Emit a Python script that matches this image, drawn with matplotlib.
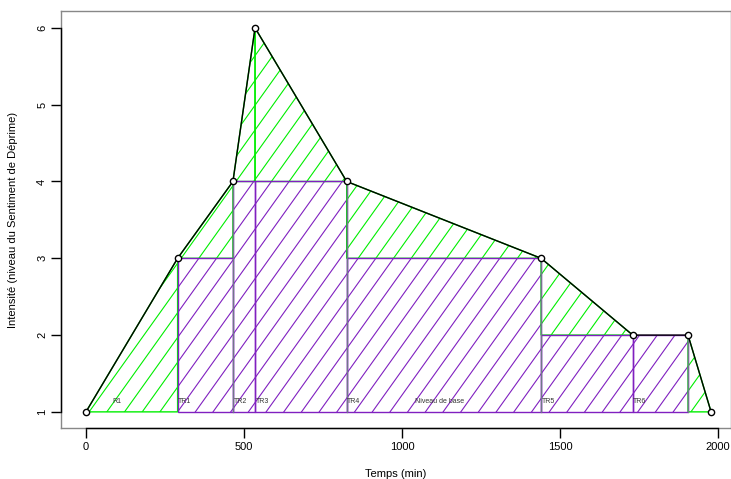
import matplotlib
matplotlib.use("Agg")
import matplotlib.pyplot as plt
from matplotlib.patches import Polygon

# points of the intensity curve
temps = [0, 290, 465, 535, 825, 1440, 1730, 1905, 1978]
intensite = [1, 3, 4, 6, 4, 3, 2, 2, 1]

# time ranges (rectangles)
tr_debut = [290, 465, 535, 825, 1440, 1730]
tr_fin = [465, 535, 825, 1440, 1730, 1905]
tr_haut = [3, 4, 4, 3, 2, 2]

# labels inside the plot
lab_txt = ["R1", "TR1", "TR2", "TR3", "TR4", "Niveau de base", "TR5", "TR6"]
lab_x = [82, 292, 467, 537, 827, 1040, 1442, 1732]

vert_x = [465, 825, 1440, 1905]

plt.rcParams['font.family'] = ['Liberation Sans', 'DejaVu Sans']

vert = "#00EE00"
violet = "#8020C0"

xmin, xmax = -79, 2041
ymin, ymax = 0.79, 6.22

fig = plt.figure(figsize=(7.31, 4.79), dpi=100)
ax = fig.add_axes([61 / 731, 1 - 428 / 479, 1 - 61 / 731, (428 - 11) / 479])
ax.set_xlim(xmin, xmax)
ax.set_ylim(ymin, ymax)

# hatch lines like R's density shading (slope ~1.4 on screen, ~17.7 px apart)
px_x = ax.bbox.width / (xmax - xmin)
px_y = ax.bbox.height / (ymax - ymin)
pente = 1.4 * px_x / px_y
pas = 17.7 / px_x


def hachures(xs, ys, couleur):
    poly = Polygon(list(zip(xs, ys)), closed=True, facecolor="none",
                   edgecolor=couleur, lw=1, zorder=3)
    ax.add_patch(poly)
    x0 = 66 - pas * 60
    while x0 < xmax + 100:
        ln, = ax.plot([x0, x0 + (ymax - 1) / pente], [1, ymax], color=couleur,
                      lw=0.8, zorder=2)
        ln.set_clip_path(poly)
        x0 += pas


# green hatched polygons between the curve and the rectangle tops
for i in range(len(temps) - 1):
    base = 1
    if temps[i] in tr_debut:
        base = tr_haut[tr_debut.index(temps[i])]
    if intensite[i] == base and intensite[i + 1] == base:
        continue
    xs = [temps[i], temps[i], temps[i + 1], temps[i + 1]]
    ys = [base, intensite[i], intensite[i + 1], base]
    hachures(xs, ys, vert)

# purple hatched rectangles
for d, f, h in zip(tr_debut, tr_fin, tr_haut):
    hachures([d, d, f, f], [1, h, h, 1], violet)

for x in vert_x:
    ax.plot([x, x], [1, intensite[temps.index(x)]], color="#707888", lw=0.9, zorder=4)

ax.plot(temps, intensite, color="black", lw=1, zorder=5)
ax.plot(temps, intensite, "o", mfc="white", mec="black", ms=4.5, mew=1, zorder=6)

for t, x in zip(lab_txt, lab_x):
    ax.text(x, 1.13, t, fontsize=5, color="#333333", ha="left", va="center", zorder=7)

for s in ax.spines.values():
    s.set_color("#888888")
    s.set_linewidth(1)

ax.set_xticks([0, 500, 1000, 1500, 2000])
ax.set_yticks([1, 2, 3, 4, 5, 6])
ax.tick_params(direction="out", length=7, width=1, labelsize=8, colors="black", pad=3)
for lab in ax.get_yticklabels():
    lab.set_rotation(90)
    lab.set_va("center")

# R-style axis lines from first to last tick
ax.plot([0, 2000], [ymin, ymin], color="black", lw=1, clip_on=False, zorder=8)
ax.plot([xmin, xmin], [1, 6], color="black", lw=1, clip_on=False, zorder=8)

ax.set_xlabel("Temps (min)", fontsize=8, labelpad=12)
ax.set_ylabel("Intensité (niveau du Sentiment de Déprime)", fontsize=8, labelpad=14)

fig.savefig("out.png", dpi=100)
